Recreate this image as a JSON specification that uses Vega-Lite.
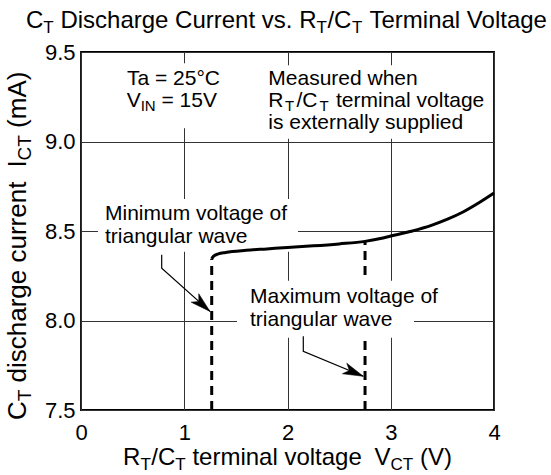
{
  "$schema": "https://vega.github.io/schema/vega-lite/v6.json",
  "width": 413,
  "height": 358,
  "autosize": "none",
  "padding": {"left": 81, "top": 52, "right": 57, "bottom": 65},
  "config": {
    "view": {"stroke": "black", "strokeWidth": 1.8},
    "font": "Liberation Sans",
    "axis": {
      "domain": false,
      "ticks": false,
      "grid": true,
      "gridColor": "#333333",
      "gridOpacity": 1,
      "gridWidth": 1,
      "labelFont": "Liberation Sans",
      "labelFontSize": 22,
      "labelColor": "black",
      "labelFlush": false,
      "labelOverlap": false,
      "title": null
    }
  },
  "datasets": {
    "curve": [
      {"x": 1.266, "y": 8.345}, {"x": 1.285, "y": 8.36}, {"x": 1.33, "y": 8.372},
      {"x": 1.4, "y": 8.38}, {"x": 1.6, "y": 8.392}, {"x": 1.8, "y": 8.4},
      {"x": 2.0, "y": 8.408}, {"x": 2.25, "y": 8.417}, {"x": 2.5, "y": 8.428},
      {"x": 2.75, "y": 8.442}, {"x": 2.9, "y": 8.458}, {"x": 3.0, "y": 8.472},
      {"x": 3.2, "y": 8.499}, {"x": 3.4, "y": 8.533}, {"x": 3.55, "y": 8.566},
      {"x": 3.7, "y": 8.606}, {"x": 3.85, "y": 8.656}, {"x": 4.0, "y": 8.712}
    ],
    "vlines": [
      {"x": 1.266, "y": 7.5, "y2": 8.345},
      {"x": 2.751, "y": 7.5, "y2": 8.443}
    ],
    "boxes": [
      {"x": 0.3777, "x2": 1.4625, "y": 9.0747, "y2": 9.437},
      {"x": 1.7724, "x2": 3.9516, "y": 9.015, "y2": 9.4259},
      {"x": 0.1646, "x2": 2.1017, "y": 8.3835, "y2": 8.6789},
      {"x": 1.5109, "x2": 3.2252, "y": 7.9041, "y2": 8.2218}
    ],
    "arrows": [
      {"id": "min", "o": 1, "x": 0.7816, "y": 8.3668},
      {"id": "min", "o": 2, "x": 0.7816, "y": 8.2926},
      {"id": "min", "o": 3, "x": 1.2494, "y": 8.0507},
      {"id": "max", "o": 1, "x": 2.153, "y": 7.9114},
      {"id": "max", "o": 2, "x": 2.153, "y": 7.8278},
      {"id": "max", "o": 3, "x": 2.734, "y": 7.6884}
    ],
    "heads": [
      {"id": "min", "x": 1.2494, "y": 8.0507},
      {"id": "max", "x": 2.734, "y": 7.6884}
    ],
    "labels": [
      {"g": "note", "x": 0.4455, "y": 9.3144, "t": "Ta = 25°C"},
      {"g": "note", "x": 0.4426, "y": 9.1934, "t": "V"},
      {"g": "noteSub", "x": 0.5782, "y": 9.1722, "t": "IN"},
      {"g": "note", "x": 0.7797, "y": 9.1934, "t": "= 15V"},
      {"g": "note", "x": 1.814, "y": 9.3144, "t": "Measured when"},
      {"g": "note", "x": 1.814, "y": 9.1934, "t": "R"},
      {"g": "noteSub", "x": 1.9758, "y": 9.1722, "t": "T"},
      {"g": "note", "x": 2.0872, "y": 9.1934, "t": "/C"},
      {"g": "noteSub", "x": 2.3099, "y": 9.1722, "t": "T"},
      {"g": "note", "x": 2.47, "y": 9.1934, "t": "terminal voltage"},
      {"g": "note", "x": 1.814, "y": 9.0691, "t": "is externally supplied"},
      {"g": "note", "x": 0.2324, "y": 8.5619, "t": "Minimum voltage of"},
      {"g": "note", "x": 0.2324, "y": 8.4337, "t": "triangular wave"},
      {"g": "note", "x": 1.6368, "y": 8.0975, "t": "Maximum voltage of"},
      {"g": "note", "x": 1.6368, "y": 7.9671, "t": "triangular wave"},
      {"g": "title", "x": -0.5327, "y": 9.6321, "t": "C"},
      {"g": "titleSub", "x": -0.3648, "y": 9.607, "t": "T"},
      {"g": "title", "x": -0.1996, "y": 9.6321, "t": "Discharge Current vs. R"},
      {"g": "titleSub", "x": 2.2808, "y": 9.607, "t": "T"},
      {"g": "title", "x": 2.3864, "y": 9.6321, "t": "/C"},
      {"g": "titleSub", "x": 2.6238, "y": 9.607, "t": "T"},
      {"g": "title", "x": 2.7941, "y": 9.6321, "t": "Terminal Voltage"},
      {"g": "xt", "x": 0.4077, "y": 7.1906, "t": "R"},
      {"g": "xtSub", "x": 0.5756, "y": 7.1656, "t": "T"},
      {"g": "xt", "x": 0.6812, "y": 7.1906, "t": "/C"},
      {"g": "xtSub", "x": 0.9137, "y": 7.1656, "t": "T"},
      {"g": "xt", "x": 1.0789, "y": 7.1906, "t": "terminal voltage"},
      {"g": "xt", "x": 2.8437, "y": 7.1906, "t": "V"},
      {"g": "xtSub", "x": 2.9985, "y": 7.1656, "t": "CT"},
      {"g": "xt", "x": 3.2826, "y": 7.1906, "t": "(V)"},
      {"g": "yt", "x": -0.5327, "y": 7.4443, "t": "C"},
      {"g": "ytSub", "x": -0.4891, "y": 7.5489, "t": "T"},
      {"g": "yt", "x": -0.5327, "y": 7.6539, "t": "discharge current"},
      {"g": "yt", "x": -0.5327, "y": 8.8541, "t": "I"},
      {"g": "ytSub", "x": -0.4891, "y": 8.8944, "t": "CT"},
      {"g": "yt", "x": -0.5327, "y": 9.0759, "t": "(mA)"}
    ]
  },
  "encoding": {
    "x": {
      "field": "x", "type": "quantitative",
      "scale": {"domain": [0, 4], "nice": false, "zero": false},
      "axis": {"values": [0, 1, 2, 3, 4], "format": "d", "labelPadding": 12}
    },
    "y": {
      "field": "y", "type": "quantitative",
      "scale": {"domain": [7.5, 9.5], "nice": false, "zero": false},
      "axis": {"values": [7.5, 8, 8.5, 9, 9.5], "format": ".1f", "labelPadding": 6}
    }
  },
  "layer": [
    {
      "data": {"name": "vlines"},
      "mark": {"type": "rule", "color": "black", "strokeWidth": 3, "strokeDash": [9, 6]},
      "encoding": {"y2": {"field": "y2"}}
    },
    {
      "data": {"name": "boxes"},
      "mark": {"type": "rect", "fill": "white", "strokeWidth": 0},
      "encoding": {"x2": {"field": "x2"}, "y2": {"field": "y2"}}
    },
    {
      "data": {"name": "labels"},
      "transform": [{"filter": "datum.g === 'note'"}],
      "mark": {"type": "text", "align": "left", "baseline": "alphabetic", "font": "Liberation Sans", "fontSize": 21, "color": "black"},
      "encoding": {"text": {"field": "t"}}
    },
    {
      "data": {"name": "labels"},
      "transform": [{"filter": "datum.g === 'noteSub'"}],
      "mark": {"type": "text", "align": "left", "baseline": "alphabetic", "font": "Liberation Sans", "fontSize": 15, "color": "black"},
      "encoding": {"text": {"field": "t"}}
    },
    {
      "data": {"name": "labels"},
      "transform": [{"filter": "datum.g === 'title'"}],
      "mark": {"type": "text", "align": "left", "baseline": "alphabetic", "font": "Liberation Sans", "fontSize": 24, "color": "black"},
      "encoding": {"text": {"field": "t"}}
    },
    {
      "data": {"name": "labels"},
      "transform": [{"filter": "datum.g === 'titleSub'"}],
      "mark": {"type": "text", "align": "left", "baseline": "alphabetic", "font": "Liberation Sans", "fontSize": 17, "color": "black"},
      "encoding": {"text": {"field": "t"}}
    },
    {
      "data": {"name": "labels"},
      "transform": [{"filter": "datum.g === 'xt'"}],
      "mark": {"type": "text", "align": "left", "baseline": "alphabetic", "font": "Liberation Sans", "fontSize": 24, "color": "black"},
      "encoding": {"text": {"field": "t"}}
    },
    {
      "data": {"name": "labels"},
      "transform": [{"filter": "datum.g === 'xtSub'"}],
      "mark": {"type": "text", "align": "left", "baseline": "alphabetic", "font": "Liberation Sans", "fontSize": 17, "color": "black"},
      "encoding": {"text": {"field": "t"}}
    },
    {
      "data": {"name": "labels"},
      "transform": [{"filter": "datum.g === 'yt'"}],
      "mark": {"type": "text", "align": "left", "baseline": "alphabetic", "angle": 270, "font": "Liberation Sans", "fontSize": 26, "color": "black"},
      "encoding": {"text": {"field": "t"}}
    },
    {
      "data": {"name": "labels"},
      "transform": [{"filter": "datum.g === 'ytSub'"}],
      "mark": {"type": "text", "align": "left", "baseline": "alphabetic", "angle": 270, "font": "Liberation Sans", "fontSize": 19, "color": "black"},
      "encoding": {"text": {"field": "t"}}
    },
    {
      "data": {"name": "arrows"},
      "mark": {"type": "line", "color": "black", "strokeWidth": 1.2},
      "encoding": {"detail": {"field": "id"}, "order": {"field": "o"}}
    },
    {
      "data": {"name": "heads"},
      "transform": [{"filter": "datum.id === 'min'"}],
      "mark": {"type": "point", "shape": "M0,0L0.38,1.35L0,1.0L-0.38,1.35Z", "filled": true, "fill": "black", "fillOpacity": 1, "stroke": "black", "strokeWidth": 0.5, "opacity": 1, "size": 900, "angle": 131.9}
    },
    {
      "data": {"name": "heads"},
      "transform": [{"filter": "datum.id === 'max'"}],
      "mark": {"type": "point", "shape": "M0,0L0.38,1.35L0,1.0L-0.38,1.35Z", "filled": true, "fill": "black", "fillOpacity": 1, "stroke": "black", "strokeWidth": 0.5, "opacity": 1, "size": 900, "angle": 112.6}
    },
    {
      "data": {"name": "curve"},
      "mark": {"type": "line", "color": "black", "strokeWidth": 3, "interpolate": "monotone"}
    }
  ]
}
